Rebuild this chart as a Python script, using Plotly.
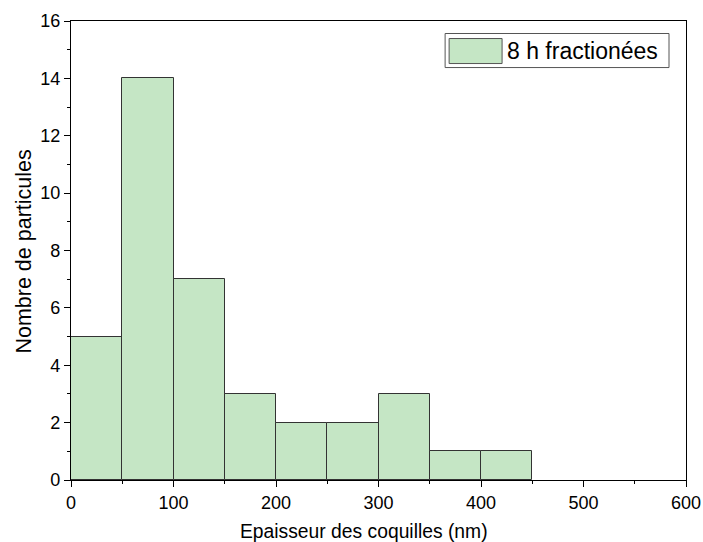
import plotly.graph_objects as go

bin_left = [0, 50, 100, 150, 200, 250, 300, 350, 400]
bin_width = 50
counts = [5, 14, 7, 3, 2, 2, 3, 1, 1]
series_name = "8 h fractionées"
x_title = "Epaisseur des coquilles (nm)"
y_title = "Nombre de particules"
x_ticks = [0, 100, 200, 300, 400, 500, 600]
y_ticks = [0, 2, 4, 6, 8, 10, 12, 14, 16]

centers = [b + bin_width / 2 for b in bin_left]
fill = "#C5E6C5"
font = "Liberation Sans, Arial, sans-serif"

# plot area in page pixels (reference)
PX0, PX1, PY0, PY1 = 70.7, 686.0, 21.5, 480.0
def px(x):
    return (x - PX0) / (PX1 - PX0)
def py(y):
    return (PY1 - y) / (PY1 - PY0)

fig = go.Figure()
fig.add_trace(go.Bar(
    x=centers, y=counts, width=[bin_width] * len(counts),
    marker=dict(color=fill, line=dict(color="#333333", width=1)),
    name=series_name, showlegend=False,
))

axis_common = dict(
    showgrid=False, zeroline=False, showline=True, mirror=True, automargin=False,
    linecolor="black", linewidth=1.2, ticks="outside", ticklen=6,
    tickwidth=1.2, tickcolor="black",
    tickfont=dict(family=font, size=18, color="black"),
)
fig.update_xaxes(
    range=[0, 600], tickvals=x_ticks,
    minor=dict(ticks="outside", ticklen=3, tickwidth=1.2, tickcolor="black", dtick=50, tick0=0),
    **axis_common,
)
fig.update_yaxes(
    range=[0, 16], tickvals=y_ticks,
    minor=dict(ticks="outside", ticklen=3, tickwidth=1.2, tickcolor="black", dtick=1, tick0=0),
    **axis_common,
)

# axis titles
fig.add_annotation(xref="paper", yref="paper", x=px(364), y=py(531),
                   xanchor="center", yanchor="middle", text=x_title, showarrow=False,
                   font=dict(family=font, size=19.3, color="black"))
fig.add_annotation(xref="paper", yref="paper", x=px(23.5), y=py(252),
                   xanchor="center", yanchor="middle", text=y_title, showarrow=False,
                   textangle=-90, font=dict(family=font, size=21.5, color="black"))

# custom legend box
fig.add_shape(type="rect", xref="paper", yref="paper",
              x0=px(445), x1=px(669), y0=py(68), y1=py(34),
              line=dict(color="#555555", width=1), fillcolor="white")
fig.add_shape(type="rect", xref="paper", yref="paper",
              x0=px(449), x1=px(502), y0=py(64), y1=py(39),
              line=dict(color="#555555", width=1), fillcolor=fill)
fig.add_annotation(xref="paper", yref="paper", x=px(505), y=py(51),
                   xanchor="left", yanchor="middle", text=series_name, showarrow=False,
                   font=dict(family=font, size=23, color="black"))

fig.update_layout(
    width=703, height=542,
    margin=dict(l=71, r=17, t=21, b=62),
    plot_bgcolor="white", paper_bgcolor="white",
    bargap=0,
)
fig.write_html(
    "out.html",
    config={"displayModeBar": False},
    post_script="document.body.style.margin='0';document.body.style.overflow='hidden';",
)
